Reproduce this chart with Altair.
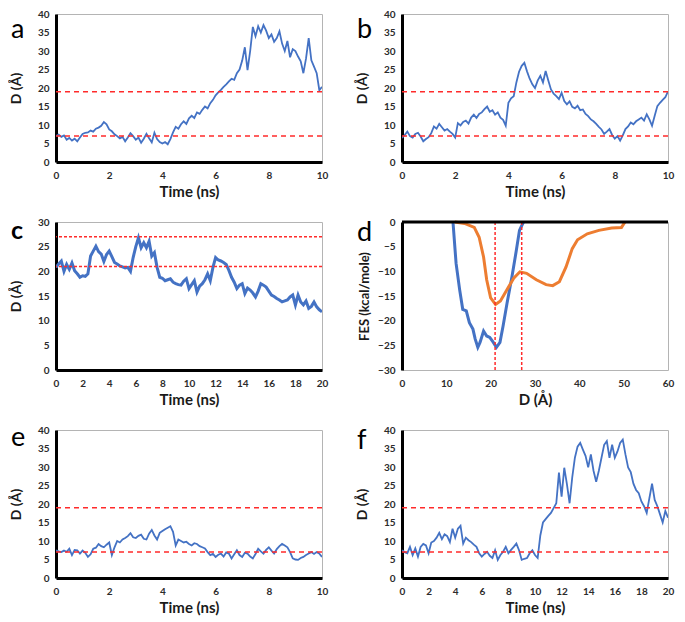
import altair as alt
import pandas as pd

# ---------------- data ----------------
# panels a, b, e: 0-10 ns, sampled every 0.1 ns
t10 = [round(i * 0.1, 1) for i in range(101)]
# panels c, f: 0-20 ns, sampled every 0.2 ns
t20 = [round(i * 0.2, 1) for i in range(101)]

a_vals = [
    7.0, 7.4, 6.8, 7.2, 6.0, 6.5, 5.8, 6.3, 5.6, 6.6,
    7.6, 7.9, 8.0, 8.5, 8.2, 9.0, 9.3, 9.8, 10.8, 10.2,
    8.8, 8.3, 7.5, 7.0, 6.4, 6.8, 5.6, 6.6, 7.8, 7.0,
    6.0, 6.6, 5.2, 6.3, 7.6, 6.4, 5.3, 7.9, 6.2, 5.4,
    5.0, 5.4, 4.8, 6.2, 8.0, 9.5, 9.0, 10.2, 11.0, 10.3,
    11.8, 12.5, 11.9, 13.4, 13.0, 14.1, 15.0, 14.5, 15.9, 16.8,
    18.0, 18.8, 19.5, 20.3, 21.0, 21.8, 22.5, 22.2, 24.0, 25.0,
    27.4, 31.0, 24.8, 30.0, 36.5, 34.0, 36.7, 35.0, 37.0, 35.5,
    33.5, 34.5, 32.5, 33.5, 35.3, 32.0, 30.0, 32.7, 28.3, 30.5,
    30.0, 28.5, 27.2, 24.0, 28.0, 33.5, 27.5, 25.8, 24.0, 19.4, 20.3,
]

b_vals = [
    6.5, 7.3, 8.2, 7.0, 6.6, 7.6, 7.9, 6.9, 5.6, 6.2,
    6.7, 7.8, 9.6, 9.0, 10.3, 9.4, 8.5, 8.9, 8.2, 7.6,
    6.6, 10.5, 9.9, 10.8, 11.2, 10.4, 12.0, 12.8, 11.9, 13.0,
    13.4, 14.3, 15.0, 13.6, 14.0, 12.8, 13.4, 12.0, 11.4, 9.8,
    16.0, 17.2, 17.8, 21.5, 24.4, 26.0, 26.8, 24.5, 22.5, 21.0,
    20.0, 22.0, 23.3, 21.5, 24.6, 22.0, 19.6, 18.5, 17.8, 17.0,
    18.7, 16.5, 15.6, 16.4, 14.9, 14.5, 15.2, 14.0, 14.2, 13.0,
    12.4, 11.5, 11.0, 10.3, 9.5, 8.8, 7.6, 8.2, 8.9, 7.3,
    6.3, 7.0, 5.8, 7.2, 8.9, 9.6, 10.7, 10.2, 11.0, 11.5,
    12.0, 11.2, 12.9, 11.5, 9.8, 12.5, 15.1, 16.0, 16.8, 17.5, 19.1,
]

c_vals = [
    20.8, 21.5, 22.1, 20.0, 21.4, 20.4, 21.7, 20.1, 19.5, 18.8,
    19.1, 19.0, 19.5, 23.1, 24.1, 25.1, 24.0, 23.5, 22.0, 23.4,
    24.1, 23.0, 21.8, 21.5, 21.1, 20.9, 20.7, 20.8, 20.0, 22.8,
    25.0, 26.8, 24.8, 25.8, 24.8, 26.1, 23.1, 23.8, 20.8, 18.8,
    18.6, 18.1, 18.3, 18.5, 17.8, 17.5, 17.3, 17.2, 18.0, 18.5,
    16.5, 17.3, 18.1, 15.8, 17.0, 17.5, 18.3, 19.5, 18.1, 20.8,
    22.8, 22.3, 22.1, 21.8, 21.4, 20.2, 18.8, 17.8, 16.5, 17.2,
    17.5, 15.5, 16.6, 16.2, 15.6, 14.8, 16.0, 17.5, 17.2, 16.8,
    16.0, 15.2, 14.9, 14.5, 14.2, 13.8, 14.0, 14.2, 14.8, 15.2,
    13.2, 15.2, 13.8, 13.2, 14.0, 12.5, 12.9, 13.8, 12.8, 12.2, 11.8,
]

e_vals = [
    7.5, 7.2, 7.0, 7.4, 7.1, 7.9, 6.2, 7.6, 7.5, 6.6,
    7.4, 6.8, 5.7, 6.4, 7.9, 8.2, 9.2, 8.6, 8.3, 9.0,
    9.6, 6.2, 8.3, 10.0, 9.6, 10.4, 10.8, 11.3, 12.1, 11.0,
    10.8, 11.4, 11.7, 10.6, 10.4, 12.0, 13.0, 11.5, 10.4, 12.2,
    12.7, 13.2, 13.6, 14.0, 12.5, 8.8, 10.4, 10.0, 9.6, 9.8,
    9.2, 8.8, 9.4, 9.2, 8.6, 8.3, 8.0, 7.0, 6.2, 6.5,
    5.7, 6.3, 6.6, 5.8, 6.9, 6.6, 5.3, 6.4, 7.5, 6.2,
    5.7, 6.8, 6.6, 5.8, 5.3, 6.5, 7.9, 7.2, 6.6, 7.6,
    8.3, 7.4, 6.6, 7.8, 8.6, 9.2, 8.8, 8.3, 7.0, 5.3,
    5.0, 4.9, 5.4, 5.7, 6.2, 6.6, 7.0, 6.5, 7.0, 6.6, 5.7,
]

f_vals = [
    7.5, 7.0, 6.7, 8.4, 6.2, 8.0, 5.8, 8.4, 9.2, 8.8,
    6.7, 9.6, 10.0, 10.9, 12.2, 10.5, 11.8, 11.3, 9.7, 13.3,
    10.9, 13.3, 14.1, 9.3, 10.9, 10.2, 9.7, 9.0, 8.4, 6.7,
    5.8, 6.5, 7.1, 6.0, 5.4, 7.5, 4.9, 6.2, 7.1, 8.4,
    6.7, 7.6, 8.4, 9.3, 7.5, 4.9, 5.2, 5.4, 6.7, 7.5,
    6.2, 5.4, 11.5, 15.0, 15.9, 16.8, 17.6, 18.9, 20.2, 28.5,
    22.0, 29.8, 25.4, 20.2, 27.2, 32.5, 35.5, 36.5, 34.7, 33.0,
    29.9, 33.4, 29.0, 26.0, 29.0, 32.5, 36.0, 37.0, 32.5, 36.0,
    32.5, 34.2, 36.5, 37.4, 33.4, 29.9, 28.6, 25.5, 23.8, 22.9,
    20.7, 19.4, 17.6, 21.6, 25.5, 21.1, 19.4, 17.2, 15.0, 18.1, 16.3,
]

# panel d: free-energy profiles
fes_blue_D = [11.5, 12.2, 13.0, 13.7, 14.5, 15.2, 16.0, 16.5, 17.1, 17.6, 18.4,
              19.1, 19.8, 20.6, 21.3, 22.1, 22.8, 23.7, 24.8, 25.8, 26.5, 27.4]
fes_blue_F = [0.0, -8.4, -13.7, -17.7, -18.0, -20.4, -21.7, -23.7, -25.4, -24.4, -22.1,
              -23.1, -23.4, -24.4, -25.4, -24.4, -21.1, -16.4, -11.1, -5.7, -1.7, 0.0]
fes_orange_D = [11.9, 14.1, 16.3, 17.4, 18.4, 19.1, 20.0, 21.1, 22.2, 23.7, 25.2, 26.6,
                28.1, 30.3, 32.5, 34.0, 35.5, 37.0, 38.4, 39.6, 41.8, 44.4, 47.3, 49.5, 50.3]
fes_orange_F = [0.0, -0.3, -1.1, -3.1, -7.1, -11.7, -15.4, -16.7, -16.0, -13.7, -11.4, -10.1,
                -10.4, -11.7, -12.7, -12.9, -12.1, -9.1, -5.4, -3.6, -2.4, -1.7, -1.2, -1.1, 0.0]

ref_lines_abef = [19, 7]
ref_lines_c = [27, 21]
ref_lines_d = [21, 27]

# ---------------- styling ----------------
BLUE = "#4472C4"
ORANGE = "#ED7D31"
RED = "#FF2B2B"
W, H = 266, 148
FONT = "Lato"


def x_axis(title, values, domain=True):
    return alt.Axis(
        title=title, values=values, grid=False, ticks=False,
        domain=domain, domainColor="black", domainWidth=3,
        labelFont=FONT, labelFontWeight="bold", labelFontSize=10, labelColor="#2b2b2b",
        labelPadding=8, labelFlush=False, labelOverlap=False,
        titleFont=FONT, titleFontSize=15, titleFontWeight="bold", titleColor="#1a1a1a",
        titlePadding=4,
    )


def y_axis(title, values, title_x=-33, title_size=14):
    return alt.Axis(
        title=title, values=values, grid=False, ticks=False,
        domain=True, domainColor="black", domainWidth=3,
        labelFont=FONT, labelFontWeight="bold", labelFontSize=10, labelColor="#2b2b2b",
        labelPadding=7, labelFlush=False, labelOverlap=False,
        titleFont=FONT, titleFontSize=title_size, titleFontWeight="bold", titleColor="#1a1a1a",
        titleX=title_x,
    )


def letter_layer(letter, ly, bold=False, size=27):
    return alt.Chart(pd.DataFrame({"l": [letter]})).mark_text(
        font=FONT, fontSize=size, fontWeight="bold" if bold else "normal",
        align="left", baseline="alphabetic", color="black",
    ).encode(x=alt.value(-45), y=alt.value(ly), text="l:N")


def ts_panel(letter, ly, times, vals, xmax, ymax, hlines, lw, dash, letter_bold=False, letter_size=27):
    df = pd.DataFrame({"t": times, "d": vals})
    x = alt.X("t:Q", scale=alt.Scale(domain=[0, xmax], nice=False, zero=False),
              axis=x_axis("Time (ns)", list(range(0, xmax + 1, 2))))
    y = alt.Y("d:Q", scale=alt.Scale(domain=[0, ymax], nice=False),
              axis=y_axis("D (Å)", list(range(0, ymax + 1, 5))))
    line = alt.Chart(df).mark_line(color=BLUE, strokeWidth=lw, clip=True).encode(x=x, y=y)
    rules = alt.Chart(pd.DataFrame({"d": hlines})).mark_rule(
        color=RED, strokeDash=dash, strokeWidth=1.5).encode(y=y)
    return alt.layer(line, rules, letter_layer(letter, ly, letter_bold, letter_size)).properties(width=W, height=H)


pa = ts_panel("a", 24, t10, a_vals, 10, 40, ref_lines_abef, 1.8, [5, 4])
pb = ts_panel("b", 24, t10, b_vals, 10, 40, ref_lines_abef, 1.8, [5, 4])
pc = ts_panel("c", 17, t20, c_vals, 20, 30, ref_lines_c, 3, [3, 2], letter_bold=True, letter_size=25)
pe = ts_panel("e", 16, t10, e_vals, 10, 40, ref_lines_abef, 1.8, [5, 4])
pf = ts_panel("f", 19, t20, f_vals, 20, 40, ref_lines_abef, 1.8, [5, 4])

# panel d
xd = alt.X("D:Q", scale=alt.Scale(domain=[0, 60], nice=False, zero=False),
           axis=x_axis("D (Å)", list(range(0, 61, 10)), domain=False))
yd = alt.Y("F:Q", scale=alt.Scale(domain=[-30, 0], nice=False),
           axis=y_axis("FES (kcal/mole)", list(range(-30, 1, 5)), title_x=-31, title_size=13))
blue_line = alt.Chart(pd.DataFrame({"D": fes_blue_D, "F": fes_blue_F})).mark_line(
    color=BLUE, strokeWidth=3).encode(x=xd, y=yd)
orange_line = alt.Chart(pd.DataFrame({"D": fes_orange_D, "F": fes_orange_F})).mark_line(
    color=ORANGE, strokeWidth=3).encode(x=xd, y=yd)
vrules = alt.Chart(pd.DataFrame({"D": ref_lines_d})).mark_rule(
    color=RED, strokeDash=[3, 2], strokeWidth=1.5).encode(x=xd)
zero_rule = alt.Chart(pd.DataFrame({"F": [0]})).mark_rule(
    color="black", strokeWidth=3).encode(y=yd)
pd_ = alt.layer(blue_line, orange_line, vrules, zero_rule,
                letter_layer("d", 19)).properties(width=W, height=H)

chart = alt.concat(
    pa, pb, pc, pd_, pe, pf,
    columns=2, spacing={"row": 60, "column": 80}, bounds="flush",
).properties(padding=0).configure(font=FONT, background="white").configure_view(
    stroke="#B4B4B4", strokeWidth=1)

chart.save("out.html", embed_options={"renderer": "svg", "actions": False})
